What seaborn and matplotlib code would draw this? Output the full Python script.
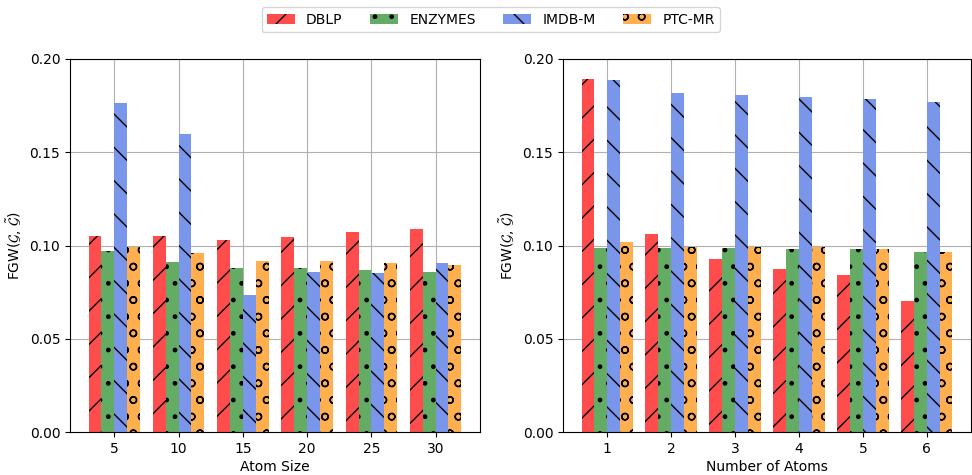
import numpy as np
import pandas as pd
import seaborn as sns
import matplotlib.pyplot as plt

# data
datasets = ["DBLP", "ENZYMES", "IMDB-M", "PTC-MR"]

atom_sizes = ["5", "10", "15", "20", "25", "30"]
size_dblp = [0.105, 0.105, 0.1031, 0.1045, 0.107, 0.109]
size_enzymes = [0.0972, 0.0912, 0.088, 0.088, 0.087, 0.0857]
size_imdb = [0.1764, 0.1598, 0.0736, 0.086, 0.0853, 0.0907]
size_ptc = [0.0994, 0.096, 0.0916, 0.0917, 0.0907, 0.0896]

num_atoms = ["1", "2", "3", "4", "5", "6"]
num_dblp = [0.1893, 0.1061, 0.0928, 0.0875, 0.0843, 0.0704]
num_enzymes = [0.0987, 0.0987, 0.0987, 0.098, 0.098, 0.0965]
num_imdb = [0.1888, 0.182, 0.1805, 0.1797, 0.1787, 0.177]
num_ptc = [0.102, 0.0994, 0.099, 0.0992, 0.098, 0.0965]

colors = ["#ff4d4d", "#64ac64", "#7a96ea", "#ffaf4d"]
hatches = ["/", ".", "\\", "o"]


def long_df(xs, series):
    rows = []
    for name, vals in zip(datasets, series):
        for x, v in zip(xs, vals):
            rows.append({"x": x, "dataset": name, "value": v})
    return pd.DataFrame(rows)


def draw(ax, df, order, xlabel):
    sns.barplot(data=df, x="x", y="value", hue="dataset", order=order,
                hue_order=datasets, palette=colors, saturation=1,
                errorbar=None, ax=ax, legend=False, width=0.8)
    for cont, h in zip(ax.containers, hatches):
        for p in cont.patches:
            p.set_edgecolor("black")
            p.set_linewidth(0)
            p.set_hatch(h)
    ax.set_ylim(0, 0.2)
    ax.set_yticks(np.arange(0, 0.201, 0.05))
    ax.yaxis.set_major_formatter(plt.FormatStrFormatter("%.2f"))
    ax.set_xlim(-0.69, len(order) - 1 + 0.69)
    ax.grid(True, color="#b0b0b0", linewidth=0.8)
    ax.set_axisbelow(True)
    ax.set_xlabel(xlabel, fontsize=10, labelpad=3)
    ax.set_ylabel(r"FGW($\mathcal{G}$, $\tilde{\mathcal{G}}$)", fontsize=10)


fig = plt.figure(figsize=(9.72, 4.75), dpi=100)
ax1 = fig.add_axes([0.072, 0.0905, 0.4218, 0.7853])
ax2 = fig.add_axes([0.5792, 0.0905, 0.4198, 0.7853])

draw(ax1, long_df(atom_sizes, [size_dblp, size_enzymes, size_imdb, size_ptc]),
     atom_sizes, "Atom Size")
draw(ax2, long_df(num_atoms, [num_dblp, num_enzymes, num_imdb, num_ptc]),
     num_atoms, "Number of Atoms")

fig.legend(handles=list(ax1.containers), labels=datasets, loc="upper center",
           bbox_to_anchor=(0.505, 1.0), ncol=4, fontsize=10)

fig.savefig("out.png", dpi=100)
plt.close(fig)
